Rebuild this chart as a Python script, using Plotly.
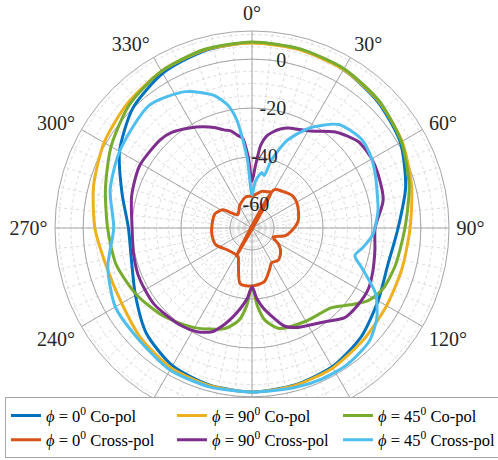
import plotly.graph_objects as go
import numpy as np

# ---------------- data (dB vs angle in degrees, clockwise from top) ----------------
theta_co0 = [0, 15, 30, 45, 60, 75, 90, 105, 120, 135, 150, 165, 180, 195, 210, 225, 240, 255, 270, 285, 300, 315, 330, 345, 360]
r_co0 = [6.8, 6.6, 5.8, 3.8, 1.0, -4.0, -9.3, -11.5, -9.5, -6.0, -3.5, -2.5, -2.0, -2.5, -4.0, -8.0, -14.0, -18.0, -18.5, -14.0, -6.5, 0.0, 4.0, 6.0, 6.8]

theta_co90 = [0, 15, 30, 45, 60, 75, 90, 105, 120, 135, 150, 165, 180, 195, 210, 225, 240, 255, 270, 285, 300, 315, 330, 345, 360]
r_co90 = [6.6, 6.4, 5.8, 4.2, 1.8, -1.5, -4.4, -5.5, -5.5, -4.5, -3.0, -2.3, -2.0, -2.3, -3.0, -5.0, -7.5, -7.5, -4.8, -2.0, 0.8, 3.0, 5.0, 6.3, 6.6]

theta_co45 = [0, 15, 30, 45, 60, 75, 90, 105, 115, 122, 128, 135, 150, 165, 172, 176, 180, 184, 188, 195, 210, 225, 240, 255, 270, 285, 300, 315, 330, 345, 360]
r_co45 = [7.0, 6.8, 6.2, 4.5, 1.5, -2.5, -6.5, -8.5, -10.0, -13.0, -18.0, -23.0, -25.0, -26.5, -31.0, -37.0, -45.0, -37.0, -31.0, -26.5, -22.0, -18.0, -14.5, -11.5, -10.0, -7.0, -2.5, 2.0, 5.0, 6.5, 7.0]

theta_x0 = [0, 15, 22, 28, 209.3, 30, 40, 52, 61, 72, 82, 90, 103, 113, 122, 131, 141, 151, 156, 167, 180, 192, 200, 206, 227, 245, 260, 274, 291, 302, 313, 332, 349, 360]
r_x0 = [-56.0, -53.5, -53.0, -52.5, -55.9, -51.0, -49.5, -47.8, -48.0, -49.0, -50.0, -51.8, -55.0, -59.6, -56.0, -53.5, -52.0, -52.7, -51.0, -46.5, -45.3, -45.7, -52.8, -56.0, -55.7, -52.7, -52.4, -52.6, -52.8, -55.0, -61.0, -58.4, -56.0, -56.0]

theta_x90 = [0, 3, 6, 9, 12, 16, 20, 25, 31, 41, 51, 60, 67, 78, 90, 100, 110, 118, 126, 134, 141, 148, 156, 162, 168, 172, 176, 180, 184, 188, 192, 196, 201, 208, 217, 225, 232, 240, 248, 258, 270, 285, 299, 314, 320, 328, 334, 340, 344, 348, 351, 354, 357, 360]
r_x90 = [-50.0, -44.0, -35.0, -31.0, -29.0, -26.9, -25.5, -24.5, -22.8, -17.0, -13.0, -12.5, -13.0, -14.2, -18.7, -18.0, -16.5, -15.3, -15.5, -16.3, -20.0, -22.5, -24.5, -27.0, -32.6, -36.0, -40.0, -45.0, -40.0, -36.0, -32.0, -28.0, -23.6, -21.0, -19.6, -19.0, -18.3, -18.5, -18.7, -19.5, -20.0, -18.1, -16.5, -17.0, -18.0, -20.8, -23.0, -25.4, -27.3, -28.5, -30.6, -32.0, -40.0, -50.0]

theta_x45 = [0, 4, 8, 10, 13, 16, 22, 30, 40, 51, 60, 67, 75, 82, 93, 100, 105, 110, 118, 126, 134, 145, 155, 165, 180, 195, 210, 225, 240, 255, 270, 285, 300, 320, 334, 344, 349, 352, 356, 360]
r_x45 = [-55.5, -50.0, -47.0, -46.0, -47.0, -40.0, -30.3, -21.8, -13.8, -11.4, -12.5, -14.2, -16.0, -17.0, -19.5, -23.0, -25.5, -21.2, -11.8, -6.0, -2.4, -1.0, -1.0, -1.5, -2.0, -1.8, -2.0, -4.0, -4.5, -8.0, -12.5, -9.0, -6.5, -3.6, -7.0, -12.6, -18.0, -24.5, -40.0, -55.5]

r_ticks = [-60, -40, -20, 0]
theta_ticks = list(range(0, 360, 30))
theta_tick_labels = [f"{t}°" for t in theta_ticks]

series = [
    ("<i>ϕ</i> = 0<sup>0</sup> Co-pol", theta_co0, r_co0, "#0072BD", "spline"),
    ("<i>ϕ</i> = 90<sup>0</sup> Co-pol", theta_co90, r_co90, "#EDB120", "spline"),
    ("<i>ϕ</i> = 45<sup>0</sup> Co-pol", theta_co45, r_co45, "#77AC30", "spline"),
    ("<i>ϕ</i> = 0<sup>0</sup> Cross-pol", theta_x0, r_x0, "#D95319", "spline"),
    ("<i>ϕ</i> = 90<sup>0</sup> Cross-pol", theta_x90, r_x90, "#7E2F8E", "spline"),
    ("<i>ϕ</i> = 45<sup>0</sup> Cross-pol", theta_x45, r_x45, "#4DBEEE", "spline"),
]

R_RANGE = [-69, 11.5]
FONT = "Liberation Serif, Times New Roman, serif"

fig = go.Figure()

# minor-grid holder (polar) - invisible trace to instantiate it
fig.add_trace(go.Scatterpolar(r=[R_RANGE[0]], theta=[0], mode="markers",
                              marker=dict(size=0.1, color="rgba(0,0,0,0)"),
                              showlegend=False, hoverinfo="skip", subplot="polar"))

for name, th, rr, col, shp in series:
    fig.add_trace(go.Scatterpolar(r=rr, theta=th, mode="lines", name=name,
                                  line=dict(color=col, width=3, shape=shp, smoothing=0.7),
                                  subplot="polar2"))

# radial tick labels as text placed through the library's scales
fig.add_trace(go.Scatterpolar(r=r_ticks, theta=[10] * len(r_ticks), mode="text",
                              text=[str(v) for v in r_ticks],
                              textfont=dict(family=FONT, size=20, color="#262626"),
                              showlegend=False, hoverinfo="skip", subplot="polar2"))

dom_x = [55 / 498, 449 / 498]
dom_y = [35 / 460, 429 / 460]

fig.update_layout(
    width=498, height=460,
    margin=dict(l=0, r=0, t=0, b=0, autoexpand=False),
    paper_bgcolor="white",
    font=dict(family=FONT, size=20, color="#262626"),
    polar=dict(
        domain=dict(x=dom_x, y=dom_y),
        bgcolor="white",
        radialaxis=dict(range=R_RANGE, tickvals=list(np.arange(-65, 11, 5)),
                        showticklabels=False, ticks="", showline=False,
                        gridcolor="#dcdcdc", griddash="dot", gridwidth=1),
        angularaxis=dict(rotation=90, direction="clockwise",
                         tickvals=list(range(0, 360, 6)), showticklabels=False, ticks="",
                         showline=False, gridcolor="#dcdcdc", griddash="dot", gridwidth=1),
    ),
    polar2=dict(
        domain=dict(x=dom_x, y=dom_y),
        bgcolor="rgba(0,0,0,0)",
        radialaxis=dict(range=R_RANGE, tickvals=r_ticks, showticklabels=False, ticks="",
                        showline=False, gridcolor="#a6a6a6", gridwidth=1),
        angularaxis=dict(rotation=90, direction="clockwise",
                         tickvals=theta_ticks, ticktext=theta_tick_labels,
                         ticks="outside", ticklen=3, tickcolor="rgba(0,0,0,0)",
                         showline=True, linecolor="#a6a6a6", linewidth=1,
                         gridcolor="#a6a6a6", gridwidth=1,
                         tickfont=dict(family=FONT, size=20, color="#262626")),
    ),
    legend=dict(orientation="h", x=0.01, y=0.004, xanchor="left", yanchor="bottom",
                bgcolor="white", bordercolor="#a6a6a6", borderwidth=1,
                font=dict(family=FONT, size=16.5, color="#000000"),
                entrywidth=121, entrywidthmode="pixels", itemwidth=30,
                tracegroupgap=0),
    showlegend=True,
)

fig.write_html("out.html", config={"displayModeBar": False},
               post_script="document.body.style.margin='0px';document.body.style.overflow='hidden';")
